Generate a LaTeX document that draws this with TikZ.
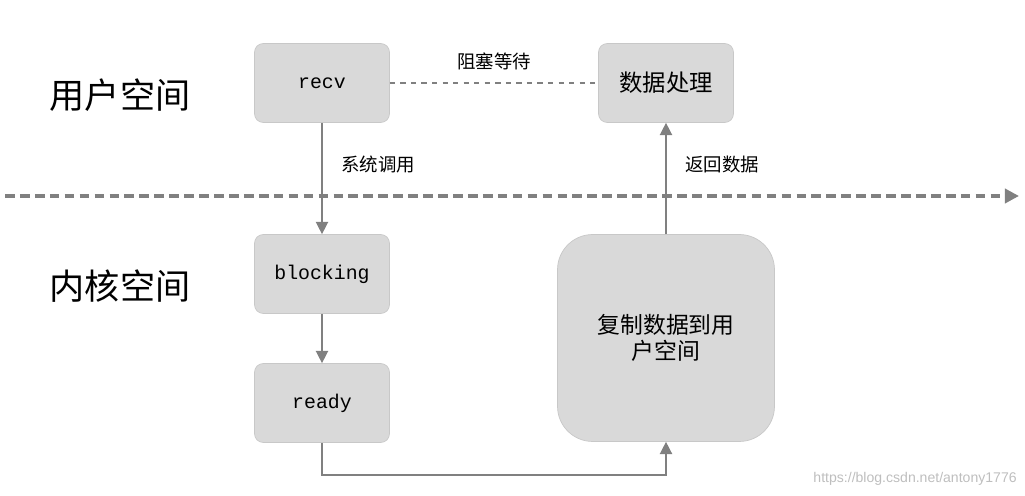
\documentclass[tikz,border=0pt]{standalone}
\usepackage{fontspec}
\setmainfont{Liberation Sans}
\setmonofont{Liberation Mono}
\newfontfamily\cjk{Noto Sans CJK SC}
\usetikzlibrary{arrows.meta}
\definecolor{boxgray}{RGB}{217,217,217}
\definecolor{edgegray}{RGB}{200,200,200}
\definecolor{linegray}{RGB}{128,128,128}
\definecolor{markgray}{RGB}{190,190,190}

\begin{document}
\begin{tikzpicture}[x=0.02cm,y=-0.02cm]
  \tikzset{rect/.style={draw=edgegray,fill=boxgray,rectangle,inner sep=0pt,minimum width=2.7cm,minimum height=1.58cm,rounded corners=5pt}}
  \tikzset{arrow/.style={draw=linegray,line width=0.8pt,-{Triangle[length=7pt,width=7pt]}}}
  \tikzset{lbl/.style={inner sep=0pt,font=\cjk\fontsize{10.5}{12}\selectfont}}

  \useasboundingbox (0,0) rectangle (1025,496);

  \def\colL{322}
  \def\colR{666}

  \node[inner sep=0pt,font=\cjk\fontsize{20}{24}\selectfont] (user) at (120,95) {用户空间};
  \node[inner sep=0pt,font=\cjk\fontsize{20}{24}\selectfont] (kernel) at (120,286) {内核空间};

  \node[rect,font=\ttfamily\fontsize{11.3}{13}\selectfont] (recv) at (\colL,83) {recv};
  \node[rect,font=\cjk\fontsize{13.3}{16}\selectfont] (proc) at (\colR,83) {数据处理};
  \node[rect,font=\ttfamily\fontsize{11.3}{13}\selectfont] (block) at (\colL,274) {blocking};
  \node[rect,font=\ttfamily\fontsize{11.3}{13}\selectfont] (ready) at (\colL,403) {ready};
  \node[rect,minimum width=4.34cm,minimum height=4.14cm,rounded corners=20pt,
        align=center,font=\cjk\fontsize{13}{14.8}\selectfont] (copy) at (\colR,338) {复制数据到用\\户空间};

  \coordinate (lineL) at (5,196);
  \coordinate (lineR) at (1019,196);
  \coordinate (bend) at (\colL,475);
  \coordinate (bend2) at (\colR,475);

  % user space / kernel space border
  \draw[draw=linegray,line width=2.3pt,dash pattern=on 5.5pt off 3pt,
        -{Triangle[length=8pt,width=8pt]}] (lineL) -- (lineR);

  \draw[draw=linegray,line width=0.8pt,dashed] (recv) -- node[lbl,above=7pt] {阻塞等待} (proc);
  \draw[arrow] (recv) -- (block);
  \node[lbl] at (378,165) {系统调用};
  \draw[arrow] (block) -- (ready);
  \draw[arrow] (ready.south) -- (bend) -- (bend2) -- (copy.south);
  \draw[arrow] (copy) -- (proc);
  \node[lbl] at (722,165) {返回数据};

  \node[inner sep=0pt,text=markgray,font=\fontsize{8}{9}\selectfont,anchor=east] (mark) at (1017,479) {https://blog.csdn.net/antony1776};
\end{tikzpicture}
\end{document}
